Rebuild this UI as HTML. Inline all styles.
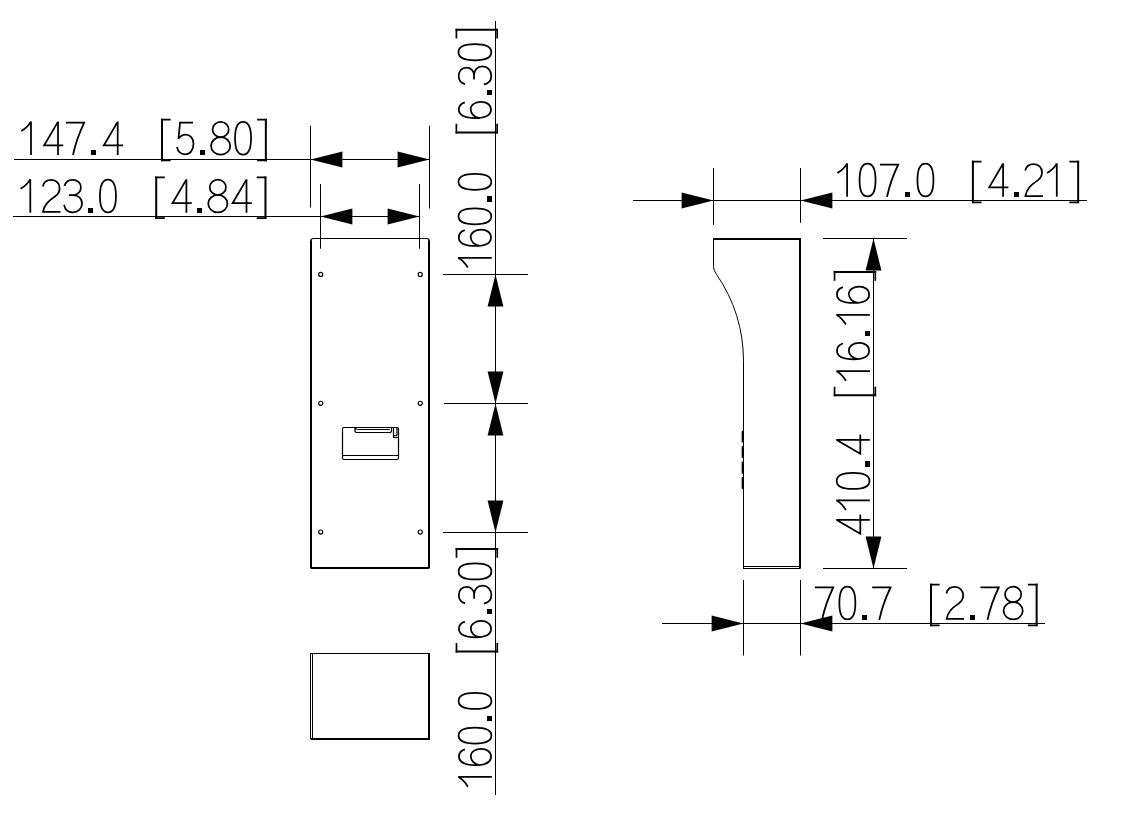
<!DOCTYPE html>
<html><head><meta charset="utf-8"><title>Dimensions</title>
<style>html,body{margin:0;padding:0;background:#fff;font-family:"Liberation Sans",sans-serif}svg{display:block}</style></head>
<body>
<svg width="1124" height="821" viewBox="0 0 1124 821">
<rect width="1124" height="821" fill="#fff"/>
<defs>
<g id="g0"><path d="M8.95,-33.2 C13.6,-33.2 16.95,-28 16.95,-16.8 C16.95,-5.6 13.6,-0.4 8.95,-0.4 C4.3,-0.4 0.95,-5.6 0.95,-16.8 C0.95,-28 4.3,-33.2 8.95,-33.2 Z"/></g>
<g id="g1"><path d="M-0.1,-23.9 Q6.6,-27.9 9.5,-33.3 M9.6,-33.6 V0"/></g>
<g id="g2"><path d="M0.7,-26.3 C1.6,-30.4 4.8,-32.85 9.2,-32.85 C14,-32.85 17.5,-29.5 17.5,-24.5 C17.5,-21.3 15.7,-18.2 13.2,-16.5 C5.7,-11.5 2.2,-7.8 0.9,-0.85 H18.4"/></g>
<g id="g3"><path d="M0.8,-26.7 C1.8,-30.6 4.8,-33.0 8.9,-33.0 C13.8,-33.0 17.3,-29.9 17.3,-25.3 C17.3,-20.8 14,-17.7 9.5,-17.7 H5.3 M9.5,-17.7 C14.8,-17.7 18.4,-14.3 18.4,-9.2 C18.4,-4 14.4,-0.45 9,-0.45 C4.4,-0.45 1.3,-3.4 0.5,-7.9"/></g>
<g id="g4"><path d="M15.5,0 V-33.6 M15.4,-33.1 L1.6,-9.55 H20.8"/></g>
<g id="g5"><path d="M16.8,-32.35 H3.85 L2.25,-16.2 C4,-19 6.3,-20.5 9.3,-20.5 C14,-20.5 17.3,-16.6 17.3,-11.2 C17.3,-5 14,-0.75 9,-0.75 C4.6,-0.75 1.6,-3.6 0.8,-8.05"/></g>
<g id="g6"><path d="M16.6,-26.9 C15.5,-30.5 13.1,-32.85 9.4,-32.85 C3.7,-32.85 0.85,-26 0.85,-16 C0.85,-6 4,-0.75 9.4,-0.75 C14.1,-0.75 17.2,-4.8 17.2,-10.6 C17.2,-16.5 14.1,-21 9.7,-21 C5.2,-21 1.7,-17.3 0.95,-12"/></g>
<g id="g7"><path d="M0,-32.35 H18.3 Q10.5,-16 7.1,0"/></g>
<g id="g8"><ellipse cx="10.35" cy="-25.5" rx="8.1" ry="7.75"/><ellipse cx="10.35" cy="-9.1" rx="9.6" ry="8.7"/></g>
<g id="gl"><path d="M9.6,-35.3 H0 M9.6,5.45 H0" stroke-width="1.7"/><path d="M1,-36.15 V6.3" stroke-width="2"/></g>
<g id="gr"><path d="M-0.2,-35.3 H9.5 M-0.2,5.45 H9.5" stroke-width="1.7"/><path d="M8.55,-36.15 V6.3" stroke-width="2"/></g>
<g id="gd"><rect x="0" y="-4.7" width="5" height="4.7" fill="#000" stroke="none"/></g>
<path id="ar" d="M0,0 L-31.9,-7.9 V7.9 Z"/>
</defs>
<g stroke="#000" stroke-width="1" fill="none">
<path d="M14.0,159.5 H429.5 M13.0,216.5 H419.5 M310.5,125.8 V207.5 M429.5,125.8 V208.6 M320.5,184.1 V248.7 M419.5,184.1 V248.7 M495.5,21.0 V795.0 M443.0,274.5 H528.0 M444.0,403.5 H528.0 M443.0,532.5 H528.0 M633.0,200.5 H1087.0 M713.5,168.0 V224.8 M800.5,168.0 V222.8 M873.5,238.5 V568.5 M823.0,238.5 H907.0 M823.0,568.5 H907.0 M662.0,623.5 H1045.0 M743.5,580.0 V655.5 M800.5,580.0 V655.5"/>
</g>
<g fill="#000">
<use href="#ar" transform="translate(310.5,159.5) rotate(180)"/>
<use href="#ar" transform="translate(429.5,159.5) rotate(0)"/>
<use href="#ar" transform="translate(320.5,216.5) rotate(180)"/>
<use href="#ar" transform="translate(419.5,216.5) rotate(0)"/>
<use href="#ar" transform="translate(495.5,274.5) rotate(-90)"/>
<use href="#ar" transform="translate(495.5,403.5) rotate(90)"/>
<use href="#ar" transform="translate(495.5,403.5) rotate(-90)"/>
<use href="#ar" transform="translate(495.5,532.5) rotate(90)"/>
<use href="#ar" transform="translate(713.5,200.5) rotate(0)"/>
<use href="#ar" transform="translate(800.5,200.5) rotate(180)"/>
<use href="#ar" transform="translate(873.5,238.5) rotate(-90)"/>
<use href="#ar" transform="translate(873.5,568.5) rotate(90)"/>
<use href="#ar" transform="translate(743.5,623.5) rotate(0)"/>
<use href="#ar" transform="translate(800.5,623.5) rotate(180)"/>
</g>
<g stroke="#000" fill="none">
<path d="M311,568 V240.2 M429,568 V240.2" stroke-width="2"/>
<path d="M310.6,240.8 Q310.9,238.5 313.2,238.5 H426.8 Q429.1,238.5 429.4,240.8" stroke-width="1.1"/>
<path d="M310.6,568 H429.4" stroke-width="2"/>
<circle cx="320.7" cy="274.4" r="2.05" stroke-width="1.15"/>
<circle cx="320.7" cy="403.3" r="2.05" stroke-width="1.15"/>
<circle cx="320.7" cy="532.0" r="2.05" stroke-width="1.15"/>
<circle cx="420.2" cy="274.4" r="2.05" stroke-width="1.15"/>
<circle cx="420.2" cy="403.3" r="2.05" stroke-width="1.15"/>
<circle cx="420.2" cy="532.0" r="2.05" stroke-width="1.15"/>
<rect x="342.5" y="427.5" width="56" height="32" rx="1.5" stroke-width="1.2"/>
<path d="M342.5,455.5 H398.5 M355,427.5 V431.5 L356,432.5 H390.5 L391.5,431.5 V427.5 M356,427.5 V430 M357.4,429.5 H389.8 M393.5,427.5 V437.5 H398.5 M397,428 V435.5 M393.5,435.7 H397" stroke-width="1.2"/>
</g>
<g stroke="#000" fill="none">
<path d="M310.5,653 V739 M312.5,653 V738 M310,653.5 H430" stroke-width="1"/>
<path d="M429,653 V740" stroke-width="2"/>
<path d="M310.8,739 H430" stroke-width="2"/>
</g>
<g stroke="#000" fill="none">
<path d="M713,239 H801" stroke-width="2"/>
<path d="M800,238 V568.3" stroke-width="2"/>
<path d="M713.5,239 V266.6 Q713.6,270.5 716.5,274.3 A154.4,154.4 0 0 1 743.5,360.8 V568.5" stroke-width="1"/>
<path d="M743,566.5 H800 M743,568.5 H800.5" stroke-width="1"/>
<path d="M742.4,430.7 V442.6 M742.4,446.1 V458 M742.4,461.5 V473.7 M742.4,477.1 V489.1" stroke-width="1.3"/>
<path d="M741.4,432 V441.5 M741.4,447.5 V457 M741.4,462.8 V472.5 M741.4,478.5 V488" stroke-width="0.7" stroke="#999"/>
</g>
<g stroke="#000" stroke-width="1.75" fill="none" stroke-linejoin="miter">
<g transform="translate(0,155.00)"><use href="#g1" x="21.40"/><use href="#g4" x="42.50"/><use href="#g7" x="65.90"/><use href="#g4" x="102.20"/><use href="#gl" x="161.00"/><use href="#g5" x="176.20"/><use href="#g8" x="210.30"/><use href="#g0" x="234.10"/><use href="#gr" x="257.30"/></g>
<g transform="translate(0,212.75)"><use href="#g1" x="20.70"/><use href="#g2" x="42.10"/><use href="#g3" x="63.60"/><use href="#g0" x="99.00"/><use href="#gl" x="155.20"/><use href="#g4" x="170.90"/><use href="#g8" x="207.50"/><use href="#g4" x="231.00"/><use href="#gr" x="256.90"/></g>
<g transform="translate(0,196.85)"><use href="#g1" x="837.50"/><use href="#g0" x="858.60"/><use href="#g7" x="879.90"/><use href="#g0" x="916.50"/><use href="#gl" x="971.90"/><use href="#g4" x="987.60"/><use href="#g2" x="1024.50"/><use href="#g1" x="1047.20"/><use href="#gr" x="1069.60"/></g>
<g transform="translate(0,619.85)"><use href="#g7" x="814.90"/><use href="#g0" x="838.40"/><use href="#g7" x="872.20"/><use href="#gl" x="930.00"/><use href="#g2" x="945.70"/><use href="#g7" x="980.40"/><use href="#g8" x="1002.80"/><use href="#gr" x="1028.10"/></g>
<g transform="translate(491.70,274.40) rotate(-90)"><use href="#g1" x="7.00"/><use href="#g6" x="27.60"/><use href="#g0" x="49.10"/><use href="#g0" x="83.70"/><use href="#gl" x="141.00"/><use href="#g6" x="155.40"/><use href="#g3" x="189.50"/><use href="#g0" x="213.20"/><use href="#gr" x="236.10"/></g>
<g transform="translate(491.80,793.60) rotate(-90)"><use href="#g1" x="7.00"/><use href="#g6" x="27.60"/><use href="#g0" x="49.10"/><use href="#g0" x="83.70"/><use href="#gl" x="141.00"/><use href="#g6" x="155.40"/><use href="#g3" x="189.50"/><use href="#g0" x="213.20"/><use href="#gr" x="236.10"/></g>
<g transform="translate(869.85,568.70) rotate(-90)"><use href="#g4" x="33.40"/><use href="#g1" x="58.70"/><use href="#g0" x="78.80"/><use href="#g4" x="113.40"/><use href="#gl" x="172.35"/><use href="#g1" x="188.00"/><use href="#g6" x="208.60"/><use href="#g1" x="244.30"/><use href="#g6" x="264.90"/><use href="#gr" x="288.10"/></g>
</g>
<g fill="#000">
<rect x="91" y="150" width="5" height="5"/>
<rect x="200" y="150" width="5" height="5"/>
<rect x="88" y="208" width="5" height="5"/>
<rect x="197" y="208" width="5" height="5"/>
<rect x="905" y="192" width="5" height="5"/>
<rect x="1014" y="192" width="5" height="5"/>
<rect x="862" y="615" width="5" height="5"/>
<rect x="970" y="615" width="5" height="5"/>
<rect x="487" y="196" width="5" height="6"/>
<rect x="487" y="90" width="5" height="5"/>
<rect x="487" y="716" width="5" height="5"/>
<rect x="487" y="609" width="5" height="5"/>
<rect x="865" y="461" width="5" height="6"/>
<rect x="865" y="331" width="5" height="5"/>
</g>
</svg>
</body></html>
